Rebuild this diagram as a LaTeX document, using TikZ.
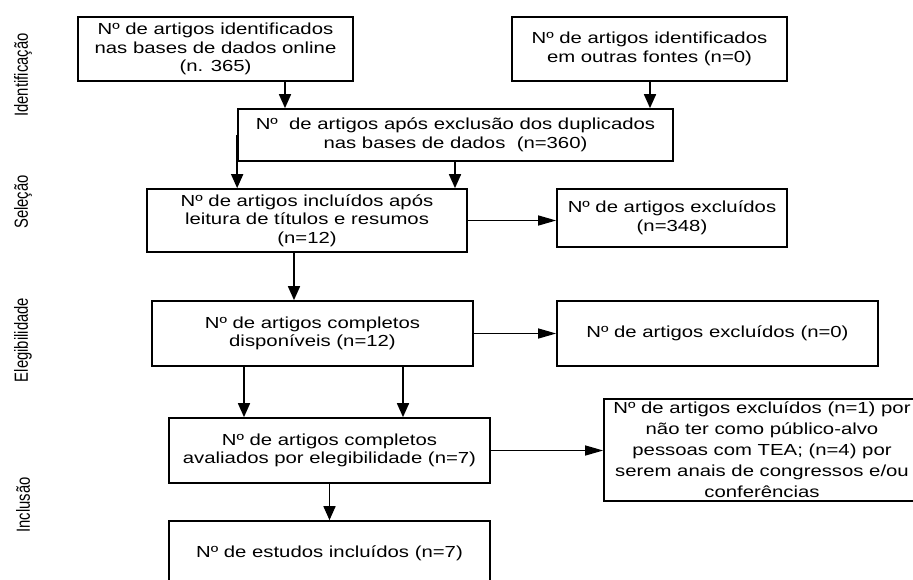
\documentclass[tikz,border=0pt]{standalone}
\usepackage{fontspec}
\setmainfont{Liberation Sans}[FakeStretch=1.27]
\newfontfamily\sidefont{Liberation Sans}[FakeStretch=0.78]
\usetikzlibrary{arrows.meta}
\begin{document}
\begin{tikzpicture}[x=1pt,y=-1pt,
  box/.style={draw=black,line width=1.7pt,inner sep=0pt,align=center,
    font=\fontsize{16}{18.5}\selectfont},
  varrow/.style={line width=1.7pt,-{Triangle[length=14pt,width=12pt]}},
  harrow/.style={line width=1.3pt,-{Triangle[length=18pt,width=10pt]}},
  side/.style={rotate=90,font=\sidefont\fontsize{19}{22}\selectfont}]
\fill[white] (0,0) rectangle (913,579);
\useasboundingbox (0,0) rectangle (913,579);
\clip (0,0) rectangle (913,579);
\node[side] (l1) at (23,75) {Identificação};
\node[side] (l2) at (23,202) {Seleção};
\node[side] (l3) at (23,340) {Elegibilidade};
\node[side] (l4) at (23,505) {Inclusão};

\node[box,minimum width=275pt,minimum height=64pt] (b1) at (215.5,49)
  {Nº de artigos identificados\\nas bases de dados online\\(n. 365)};
\node[box,minimum width=275pt,minimum height=64pt] (b2) at (649.5,49)
  {Nº de artigos identificados\\em outras fontes (n=0)};
\node[box,minimum width=435pt,minimum height=52pt] (b3) at (455.5,135)
  {Nº\ \ de artigos após exclusão dos duplicados\\nas bases de dados\ \ (n=360)};
\node[box,minimum width=320pt,minimum height=63pt] (b4) at (307,220.5)
  {Nº de artigos incluídos após\\leitura de títulos e resumos\\(n=12)};
\node[box,minimum width=230pt,minimum height=58pt] (b5) at (672,218)
  {Nº de artigos excluídos\\(n=348)};
\node[box,minimum width=321pt,minimum height=65pt] (b6) at (312.5,333.5)
  {Nº de artigos completos\\disponíveis (n=12)};
\node[box,minimum width=321pt,minimum height=65pt] (b7) at (717.5,333.5)
  {Nº de artigos excluídos (n=0)};
\node[box,minimum width=321pt,minimum height=65pt] (b8) at (329.5,450.5)
  {Nº de artigos completos\\avaliados por elegibilidade (n=7)};
\node[box,minimum width=316pt,minimum height=102pt,
  font=\fontsize{16}{21}\selectfont] (b9) at (762,450)
  {Nº de artigos excluídos (n=1) por\\não ter como público-alvo\\pessoas com TEA; (n=4) por\\serem anais de congressos e/ou\\conferências};
\node[box,minimum width=321pt,minimum height=64pt] (b10) at (329.5,553)
  {Nº de estudos incluídos (n=7)};

\coordinate (x1) at (285,0);
\coordinate (x2) at (650,0);
\coordinate (x3) at (455,0);
\coordinate (x4) at (294,0);
\coordinate (x5) at (244,0);
\coordinate (x6) at (403,0);

\draw[varrow] (b1.south -| x1) -- (b3.north -| x1);
\draw[varrow] (b2.south -| x2) -- (b3.north -| x2);
\draw[varrow] (b3.west) -- (b3.west |- b4.north);
\draw[varrow] (b3.south -| x3) -- (b4.north -| x3);
\draw[harrow] (b4.east) -- (b5.west |- b4.east);
\draw[varrow] (b4.south -| x4) -- (b6.north -| x4);
\draw[harrow] (b6.east) -- (b7.west);
\draw[varrow] (b6.south -| x5) -- (b8.north -| x5);
\draw[varrow] (b6.south -| x6) -- (b8.north -| x6);
\draw[harrow] (b8.east) -- (b9.west |- b8.east);
\draw[varrow] (b8.south) -- (b10.north);
\end{tikzpicture}
\end{document}
